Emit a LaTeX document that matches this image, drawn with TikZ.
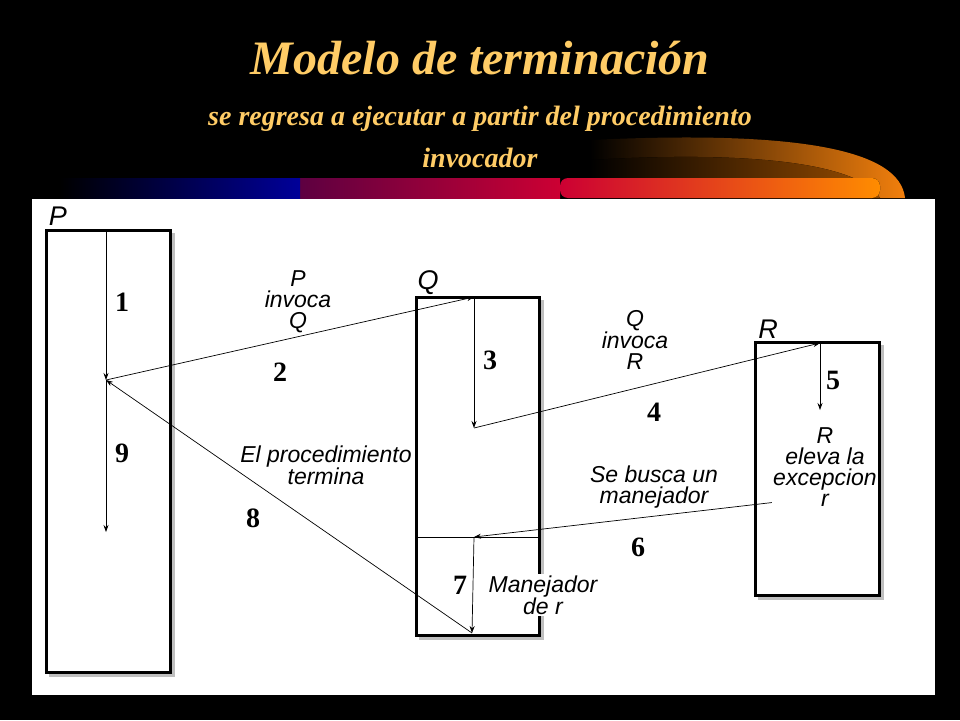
\documentclass[tikz,border=0pt]{standalone}
\usepackage{fontspec}
\setmainfont{Liberation Serif}
\setsansfont{Liberation Sans}
\usetikzlibrary{arrows.meta}
\definecolor{ttl}{HTML}{FFCC66}
\tikzset{
 bx/.style={line width=3pt},
 shd/.style={line width=3pt,draw=black!25},
 ar/.style={-{Stealth[length=7pt,width=5pt]},line width=0.7pt},
 num/.style={font=\fontsize{28}{28}\selectfont\bfseries},
 lbl/.style={font=\sffamily\itshape\fontsize{23}{21}\selectfont,align=center,inner sep=1pt},
 nm/.style={font=\sffamily\itshape\fontsize{27}{27}\selectfont}
}
\begin{document}
\begin{tikzpicture}[x=1pt,y=-1pt]
\useasboundingbox (0,0) rectangle (960,720);
\fill[black] (0,0) rectangle (960,720);
% swoosh
\fill[left color=black,right color=orange!80!brown] (590,140) .. controls (800,130) and (900,150) .. (905,198) -- (590,198) -- cycle;
\fill[left color=black,right color=orange!60!black] (590,160) .. controls (760,150) and (860,165) .. (880,198) -- (590,198) -- cycle;
\fill[left color=black!70!blue,right color=purple!80!red] (80,178) rectangle (560,198);
\fill[left color=purple!80!red,right color=orange!90!yellow,rounded corners=8pt] (560,178) rectangle (880,198);
\fill[left color=black,right color=black!40!blue] (60,178) rectangle (300,198);
\node[text=ttl,font=\fontsize{48}{48}\selectfont\bfseries\itshape] (t1) at (480,58) {Modelo de terminación};
\node[text=ttl,font=\fontsize{28}{42}\selectfont\bfseries\itshape,align=center] (t2) at (480,137) {se regresa a ejecutar a partir del procedimiento\\invocador};
\fill[white] (32,199) rectangle (935,695);
% boxes with shadows
\draw[shd] (173,233) -- (173,675) -- (49,675);
\draw[shd] (542,300) -- (542,638) -- (419,638);
\draw[shd] (882,345) -- (882,598) -- (758,598);
\draw[bx] (46,230) rectangle (170,672);
\draw[bx] (416,297) rectangle (539,635);
\draw[bx] (755,342) rectangle (879,595);
\draw[line width=0.8pt] (416,537) -- (539,537);
\node[nm] (P) at (58,216) {P};
\node[nm] (Q) at (428,283) {Q};
\node[nm] (R) at (768,329) {R};
\coordinate (p0) at (106,232);
\coordinate (pm) at (106,380);
\coordinate (pe) at (106,532);
\coordinate (q0) at (474,297);
\coordinate (qm) at (474,428);
\coordinate (qh) at (474,537);
\coordinate (qe) at (472,633);
\coordinate (r0) at (820,343);
\coordinate (rm) at (820,410);
\coordinate (rs) at (820,497);
\draw[ar] (p0) -- (pm);
\draw[ar] (pm) -- (pe);
\draw[ar] (pm) -- (q0);
\draw[ar] (q0) -- (qm);
\draw[ar] (qm) -- (r0);
\draw[ar] (r0) -- (rm);
\draw[ar] (rs) -- (qh);
\draw[ar] (qh) -- (qe);
\draw[ar] (qe) -- (pm);
\node[lbl] (l2) at (298,302) {P\\invoca\\Q};
\node[lbl] (l4) at (635,340) {Q\\invoca\\R};
\node[lbl,fill=white] (l5) at (825,467) {R\\eleva la\\excepcion\\r};
\node[lbl] (l6) at (654,487) {Se busca un\\manejador};
\node[lbl,fill=white] (l7) at (543,595) {Manejador\\de r};
\node[lbl] (l8) at (326,465) {El procedimiento\\termina};
\node[num] (n1) at (122,302) {1};
\node[num] (n9) at (122,453) {9};
\node[num] (n2) at (280,372) {2};
\node[num] (n3) at (490,360) {3};
\node[num] (n4) at (654,412) {4};
\node[num] (n5) at (833,380) {5};
\node[num] (n6) at (638,547) {6};
\node[num] (n7) at (460,585) {7};
\node[num] (n8) at (253,518) {8};
\end{tikzpicture}
\end{document}
